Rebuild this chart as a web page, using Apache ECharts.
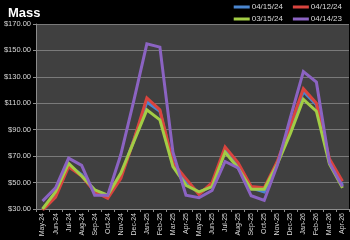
<!DOCTYPE html>
<html><head><meta charset="utf-8">
<script src="https://cdn.jsdelivr.net/npm/echarts@6/dist/echarts.min.js"></script>
<style>html,body{margin:0;padding:0;background:#000;}#c{width:350px;height:240px;}</style>
</head><body><div id="c"></div>
<script>
const categories = ['May-24','Jun-24','Jul-24','Aug-24','Sep-24','Oct-24','Nov-24','Dec-24','Jan-25','Feb-25','Mar-25','Apr-25','May-25','Jun-25','Jul-25','Aug-25','Sep-25','Oct-25','Nov-25','Dec-25','Jan-26','Feb-26','Mar-26','Apr-26'];
const s041524 = [29.5,41,63,56,44,40,55,82,111,104,64,51,42,48,75,62,46,43,65,90,119,109,66,48];
const s041224 = [29,39,62,55,43,38,53,82,114,105,65,53,41,50,77,65,47,46,66,93,121,110,68,51];
const s031524 = [30,43,64.5,55,44.5,40.5,57,81,105,97.5,62,48,43,47,73,61,45,45,64,87,113,104,64,46];
const s041423 = [36,46,68.5,63,40.5,40.5,71,112,155,152.5,73,40.5,38.5,44,66,61,40,36.5,63,99,134,126,65,47];
const seriesNames = ['04/15/24','04/12/24','03/15/24','04/14/23'];
const yTicks = {min:30, max:170, interval:20};

const colors = ['#4a86d0','#d9443e','#a2cd45','#8b63c2'];
const data = [s041524, s041224, s031524, s041423];
const chart = echarts.init(document.getElementById('c'), null, {renderer:'canvas'});
chart.setOption({
  backgroundColor:'#000000',
  animation:false,
  title:{text:'Mass', left:3, top:2, textStyle:{color:'#ffffff', fontSize:13, fontWeight:'bold', fontFamily:'Liberation Sans'}},
  legend:[
    {data:[seriesNames[0],seriesNames[1]], right:3, top:-2, itemWidth:16, itemHeight:3, itemGap:10, icon:'rect',
     textStyle:{color:'#d9d9d9', fontSize:8, fontFamily:'Liberation Sans', padding:[0,0,0,-3]}},
    {data:[seriesNames[2],seriesNames[3]], right:3, top:10, itemWidth:16, itemHeight:3, itemGap:10, icon:'rect',
     textStyle:{color:'#d9d9d9', fontSize:8, fontFamily:'Liberation Sans', padding:[0,0,0,-3]}}
  ],
  grid:{left:36, right:1, top:24, bottom:31, show:true, backgroundColor:'#404040', borderWidth:0, containLabel:false},
  xAxis:{type:'category', data:categories, boundaryGap:true,
    axisLine:{lineStyle:{color:'#8c8c8c', width:1}},
    axisTick:{show:true, length:3, lineStyle:{color:'#8c8c8c'}},
    axisLabel:{rotate:90, interval:0, color:'#d9d9d9', fontSize:7, fontFamily:'Liberation Sans', margin:4}},
  yAxis:{type:'value', min:yTicks.min, max:yTicks.max, interval:yTicks.interval,
    axisLine:{show:true, lineStyle:{color:'#8c8c8c'}},
    axisTick:{show:true, length:3, lineStyle:{color:'#8c8c8c'}},
    splitLine:{lineStyle:{color:'#7a7a7a', width:1}},
    axisLabel:{color:'#d9d9d9', fontSize:7.5, fontFamily:'Liberation Sans', margin:5,
      formatter:v=>'$'+v.toFixed(2)}},
  series: data.map((d,i)=>({name:seriesNames[i], type:'line', data:d, showSymbol:false, symbol:'none',
    lineStyle:{color:colors[i], width:3, join:'miter'}, itemStyle:{color:colors[i]}, z:2+i}))
});
</script></body></html>
